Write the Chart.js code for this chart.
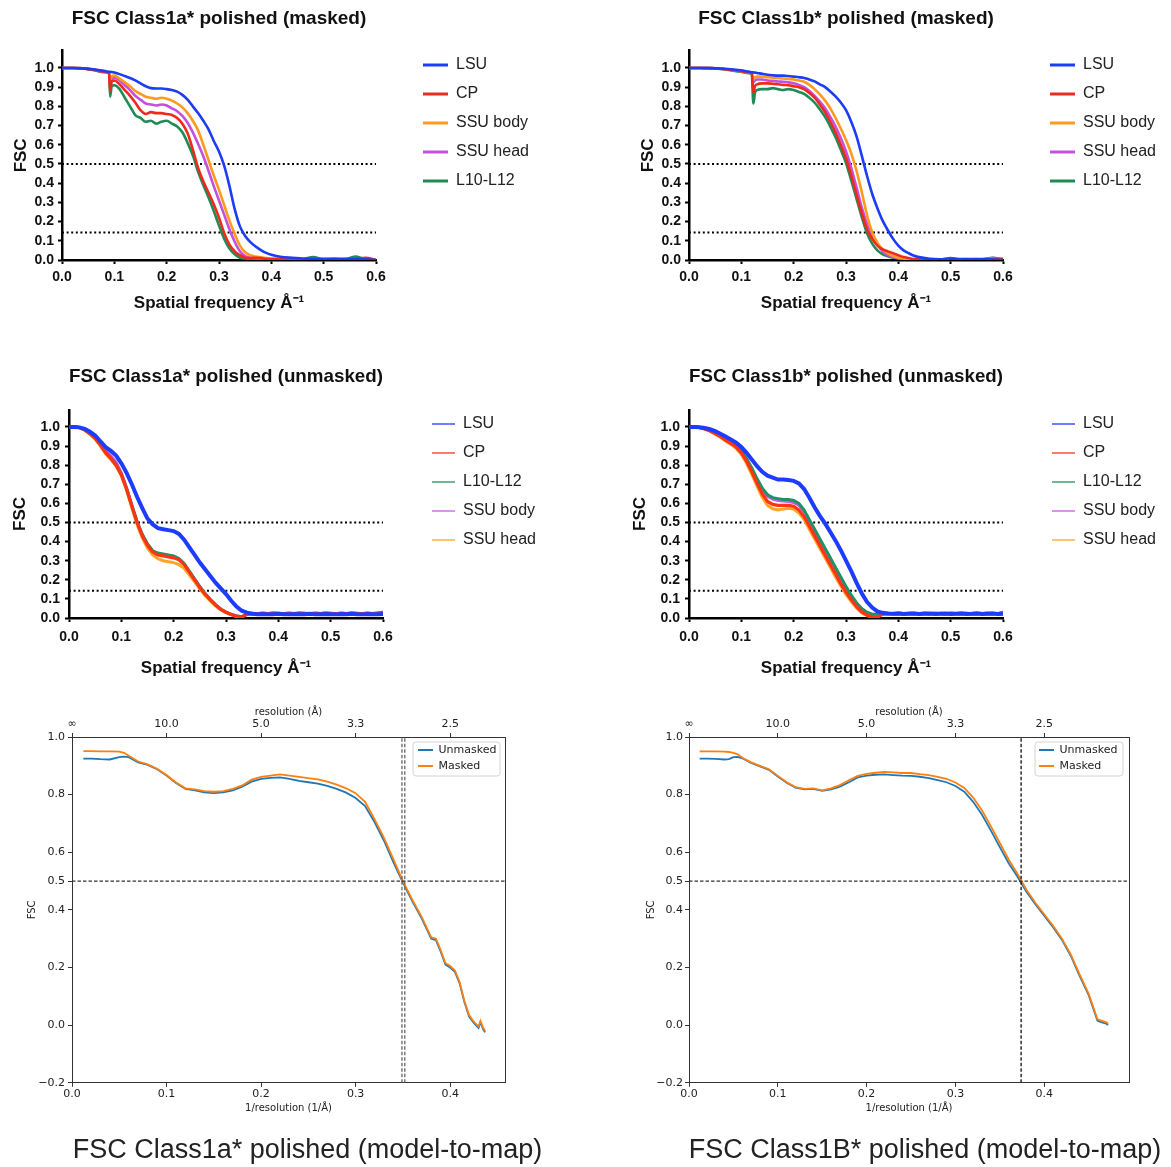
<!DOCTYPE html>
<html><head><meta charset="utf-8">
<script src="https://cdn.jsdelivr.net/npm/chart.js@4.4.1/dist/chart.umd.min.js"></script>
<style>
html,body{margin:0;padding:0;background:#fff;overflow:hidden;width:1171px;height:1167px;}
canvas{position:absolute;}
</style></head><body>
<canvas id="c1" width="585" height="330" style="left:0;top:0;width:585px;height:330px"></canvas>
<canvas id="c2" width="544" height="330" style="left:627px;top:0;width:544px;height:330px"></canvas>
<canvas id="c3" width="585" height="330" style="left:7px;top:360px;width:585px;height:330px"></canvas>
<canvas id="c4" width="544" height="330" style="left:627px;top:360px;width:544px;height:330px"></canvas>
<canvas id="c5" width="615" height="467" style="left:0;top:700px;width:615px;height:467px"></canvas>
<canvas id="c6" width="616" height="467" style="left:617px;top:700px;width:616px;height:467px"></canvas>
<script>
// ---------------- DATA ----------------
const xTicksPrism = [0, 0.1, 0.2, 0.3, 0.4, 0.5, 0.6];
const yTicksPrism = [0, 0.1, 0.2, 0.3, 0.4, 0.5, 0.6, 0.7, 0.8, 0.9, 1.0];
const thresholds = [0.5, 0.143];
const xRangePrism = [0, 0.6];

// Panel 1: Class1a* masked
const xs1 = [0, 0.02, 0.04, 0.06, 0.08, 0.09, 0.092, 0.095, 0.1, 0.11, 0.12, 0.13, 0.14, 0.15, 0.16, 0.17, 0.18, 0.19, 0.2, 0.21, 0.22, 0.23, 0.24, 0.25, 0.26, 0.27, 0.28, 0.29, 0.3, 0.31, 0.32, 0.33, 0.34, 0.35, 0.36, 0.37, 0.38, 0.39, 0.4, 0.42, 0.44, 0.46, 0.48, 0.5, 0.52, 0.54, 0.56, 0.58, 0.6];
const lsu1 = [1.0, 1.0, 0.998, 0.993, 0.985, 0.98, 0.98, 0.979, 0.976, 0.968, 0.958, 0.948, 0.935, 0.92, 0.905, 0.895, 0.893, 0.893, 0.89, 0.885, 0.877, 0.86, 0.835, 0.8, 0.765, 0.725, 0.68, 0.62, 0.565, 0.49, 0.385, 0.265, 0.175, 0.125, 0.093, 0.07, 0.052, 0.037, 0.027, 0.016, 0.012, 0.008, 0.006, 0.006, 0.005, 0.006, 0.005, 0.004, 0.0];
const cp1 = [1.0, 1.0, 0.998, 0.99, 0.98, 0.975, 0.88, 0.93, 0.935, 0.915, 0.885, 0.855, 0.82, 0.78, 0.76, 0.77, 0.765, 0.765, 0.76, 0.755, 0.74, 0.71, 0.66, 0.575, 0.48, 0.41, 0.35, 0.29, 0.22, 0.14, 0.08, 0.045, 0.025, 0.012, 0.01, 0.012, 0.01, 0.006, 0.005, 0.004, 0.003, 0.004, 0.003, 0.004, 0.006, 0.003, 0.005, 0.012, 0.0];
const ssuBody1 = [1.0, 1.0, 0.998, 0.992, 0.982, 0.977, 0.93, 0.955, 0.96, 0.945, 0.925, 0.905, 0.88, 0.865, 0.85, 0.845, 0.84, 0.845, 0.84, 0.83, 0.815, 0.795, 0.765, 0.725, 0.675, 0.6, 0.52, 0.44, 0.365, 0.285, 0.205, 0.135, 0.075, 0.04, 0.025, 0.018, 0.014, 0.01, 0.006, 0.005, 0.004, 0.003, 0.005, 0.004, 0.008, 0.004, 0.003, 0.006, 0.0];
const ssuHead1 = [1.0, 1.0, 0.998, 0.992, 0.981, 0.976, 0.91, 0.94, 0.95, 0.935, 0.91, 0.885, 0.855, 0.835, 0.815, 0.81, 0.805, 0.81, 0.805, 0.79, 0.775, 0.75, 0.715, 0.665, 0.605, 0.54, 0.465, 0.385, 0.31, 0.235, 0.16, 0.095, 0.045, 0.02, 0.012, 0.01, 0.008, 0.006, 0.005, 0.004, 0.003, 0.004, 0.003, 0.004, 0.003, 0.005, 0.004, 0.003, 0.0];
const l1012_1 = [1.0, 1.0, 0.998, 0.99, 0.978, 0.97, 0.85, 0.905, 0.91, 0.89, 0.845, 0.8, 0.755, 0.74, 0.72, 0.725, 0.71, 0.72, 0.725, 0.71, 0.695, 0.665, 0.61, 0.545, 0.46, 0.39, 0.325, 0.255, 0.18, 0.11, 0.06, 0.03, 0.012, 0.008, 0.006, 0.005, 0.004, 0.004, 0.003, 0.004, 0.003, 0.004, 0.016, 0.003, 0.004, 0.003, 0.018, 0.004, 0.0];

// Panel 2: Class1b* masked
const xs2 = [0, 0.02, 0.04, 0.06, 0.08, 0.1, 0.11, 0.12, 0.123, 0.126, 0.13, 0.14, 0.15, 0.16, 0.17, 0.18, 0.19, 0.2, 0.21, 0.22, 0.23, 0.24, 0.25, 0.26, 0.27, 0.28, 0.29, 0.3, 0.31, 0.32, 0.33, 0.34, 0.35, 0.36, 0.37, 0.38, 0.39, 0.4, 0.41, 0.42, 0.43, 0.44, 0.46, 0.48, 0.5, 0.52, 0.54, 0.56, 0.58, 0.6];
const lsu2 = [1.0, 1.0, 0.999, 0.997, 0.993, 0.988, 0.983, 0.978, 0.977, 0.976, 0.974, 0.97, 0.965, 0.962, 0.96, 0.96, 0.958, 0.955, 0.952, 0.948, 0.94, 0.93, 0.915, 0.9, 0.878, 0.852, 0.82, 0.78, 0.72, 0.645, 0.545, 0.44, 0.345, 0.27, 0.205, 0.155, 0.11, 0.075, 0.05, 0.035, 0.022, 0.015, 0.006, 0.004, 0.006, 0.005, 0.004, 0.005, 0.003, 0.0];
const cp2 = [1.0, 1.0, 0.999, 0.996, 0.99, 0.983, 0.978, 0.972, 0.87, 0.905, 0.915, 0.92, 0.92, 0.918, 0.915, 0.912, 0.91, 0.905, 0.9, 0.89, 0.87, 0.845, 0.81, 0.77, 0.72, 0.665, 0.6, 0.53, 0.44, 0.34, 0.245, 0.16, 0.11, 0.075, 0.055, 0.045, 0.035, 0.025, 0.015, 0.01, 0.005, 0.003, 0.004, 0.003, 0.01, 0.003, 0.004, 0.003, 0.004, 0.008];
const ssuBody2 = [1.0, 1.0, 0.999, 0.996, 0.99, 0.983, 0.977, 0.97, 0.94, 0.95, 0.955, 0.955, 0.952, 0.95, 0.948, 0.945, 0.943, 0.94, 0.935, 0.928, 0.912, 0.89, 0.862, 0.83, 0.79, 0.74, 0.685, 0.625, 0.555, 0.465, 0.355, 0.235, 0.145, 0.09, 0.055, 0.035, 0.02, 0.012, 0.008, 0.005, 0.004, 0.003, 0.003, 0.004, 0.003, 0.004, 0.006, 0.003, 0.004, 0.0];
const ssuHead2 = [1.0, 1.0, 0.999, 0.996, 0.99, 0.983, 0.977, 0.97, 0.925, 0.935, 0.94, 0.94, 0.935, 0.933, 0.93, 0.928, 0.925, 0.92, 0.912, 0.9, 0.88, 0.855, 0.825, 0.79, 0.745, 0.695, 0.635, 0.565, 0.48, 0.38, 0.275, 0.19, 0.125, 0.08, 0.045, 0.025, 0.015, 0.01, 0.006, 0.004, 0.003, 0.003, 0.004, 0.003, 0.003, 0.004, 0.003, 0.003, 0.01, 0.0];
const l1012_2 = [1.0, 1.0, 0.999, 0.995, 0.988, 0.98, 0.974, 0.967, 0.815, 0.87, 0.885, 0.89, 0.89, 0.895, 0.89, 0.885, 0.89, 0.885, 0.875, 0.865, 0.845, 0.82, 0.785, 0.745, 0.695, 0.64, 0.575, 0.505, 0.415, 0.32, 0.225, 0.14, 0.085, 0.05, 0.03, 0.02, 0.012, 0.008, 0.005, 0.004, 0.003, 0.003, 0.004, 0.003, 0.004, 0.003, 0.003, 0.004, 0.012, 0.0];

// Panels 3 & 4: unmasked (shared frequency grid)
const xsU = [0, 0.01, 0.02, 0.03, 0.04, 0.05, 0.06, 0.07, 0.08, 0.09, 0.1, 0.11, 0.12, 0.13, 0.14, 0.15, 0.16, 0.17, 0.18, 0.19, 0.2, 0.21, 0.22, 0.23, 0.24, 0.25, 0.26, 0.27, 0.28, 0.29, 0.3, 0.31, 0.32, 0.33, 0.34, 0.35, 0.36, 0.37, 0.38, 0.39, 0.4, 0.41, 0.42, 0.43, 0.44, 0.45, 0.46, 0.47, 0.48, 0.49, 0.5, 0.51, 0.52, 0.53, 0.54, 0.55, 0.56, 0.57, 0.58, 0.59, 0.6];
const lsu3 = [1.0, 1.0, 0.998, 0.99, 0.975, 0.955, 0.925, 0.895, 0.875, 0.85, 0.81, 0.76, 0.7, 0.635, 0.575, 0.52, 0.49, 0.47, 0.465, 0.46, 0.455, 0.44, 0.41, 0.37, 0.33, 0.29, 0.255, 0.22, 0.185, 0.155, 0.125, 0.09, 0.06, 0.038, 0.028, 0.022, 0.02, 0.021, 0.019, 0.02, 0.022, 0.02, 0.019, 0.021, 0.02, 0.02, 0.022, 0.019, 0.02, 0.021, 0.02, 0.019, 0.021, 0.02, 0.022, 0.02, 0.019, 0.021, 0.02, 0.02, 0.021];
const cp3 = [1.0, 1.0, 0.997, 0.985, 0.965, 0.94, 0.905, 0.865, 0.835, 0.8, 0.75, 0.675, 0.585, 0.5, 0.43, 0.38, 0.345, 0.33, 0.325, 0.32, 0.315, 0.305, 0.28, 0.24, 0.2, 0.16, 0.125, 0.095, 0.068, 0.045, 0.03, 0.018, 0.01, 0.006, 0.02, 0.024, 0.022, 0.025, 0.023, 0.026, 0.024, 0.022, 0.025, 0.023, 0.026, 0.024, 0.022, 0.025, 0.023, 0.026, 0.024, 0.022, 0.025, 0.023, 0.026, 0.024, 0.022, 0.025, 0.023, 0.026, 0.03];
const l1012_3 = [1.0, 1.0, 0.997, 0.985, 0.966, 0.942, 0.908, 0.868, 0.838, 0.802, 0.752, 0.678, 0.59, 0.505, 0.438, 0.388, 0.352, 0.34, 0.335, 0.33, 0.325, 0.312, 0.285, 0.245, 0.205, 0.165, 0.128, 0.097, 0.07, 0.047, 0.031, 0.019, 0.011, 0.007, 0.018, 0.022, 0.02, 0.023, 0.021, 0.024, 0.022, 0.02, 0.023, 0.021, 0.024, 0.022, 0.02, 0.023, 0.021, 0.024, 0.022, 0.02, 0.023, 0.021, 0.024, 0.022, 0.02, 0.023, 0.021, 0.024, 0.025];
const ssuBody3 = [1.0, 1.0, 0.998, 0.987, 0.968, 0.946, 0.913, 0.878, 0.85, 0.815, 0.76, 0.682, 0.592, 0.505, 0.436, 0.385, 0.35, 0.336, 0.33, 0.325, 0.32, 0.308, 0.282, 0.242, 0.202, 0.162, 0.126, 0.096, 0.069, 0.046, 0.03, 0.018, 0.01, 0.006, 0.019, 0.023, 0.021, 0.024, 0.022, 0.025, 0.023, 0.021, 0.024, 0.022, 0.025, 0.023, 0.021, 0.024, 0.022, 0.025, 0.023, 0.021, 0.024, 0.022, 0.025, 0.023, 0.021, 0.024, 0.022, 0.025, 0.024];
const ssuHead3 = [1.0, 1.0, 0.996, 0.983, 0.962, 0.936, 0.9, 0.86, 0.83, 0.795, 0.745, 0.668, 0.578, 0.49, 0.42, 0.365, 0.33, 0.31, 0.3, 0.295, 0.29, 0.28, 0.26, 0.225, 0.19, 0.152, 0.118, 0.09, 0.064, 0.042, 0.027, 0.016, 0.008, 0.004, 0.021, 0.025, 0.023, 0.026, 0.024, 0.027, 0.025, 0.023, 0.026, 0.024, 0.027, 0.025, 0.023, 0.026, 0.024, 0.027, 0.025, 0.023, 0.026, 0.024, 0.027, 0.025, 0.023, 0.026, 0.024, 0.027, 0.03];

const lsu4 = [1.0, 1.0, 0.999, 0.995, 0.988, 0.978, 0.965, 0.95, 0.935, 0.918, 0.895, 0.865, 0.83, 0.795, 0.765, 0.745, 0.735, 0.725, 0.725, 0.722, 0.718, 0.705, 0.675, 0.63, 0.58, 0.535, 0.495, 0.45, 0.405, 0.355, 0.3, 0.245, 0.185, 0.13, 0.085, 0.055, 0.035, 0.027, 0.024, 0.022, 0.023, 0.021, 0.022, 0.024, 0.021, 0.022, 0.023, 0.021, 0.022, 0.024, 0.021, 0.022, 0.023, 0.021, 0.022, 0.024, 0.021, 0.022, 0.023, 0.021, 0.022];
const cp4 = [1.0, 1.0, 0.998, 0.99, 0.98, 0.965, 0.95, 0.93, 0.915, 0.895, 0.865, 0.82, 0.765, 0.705, 0.65, 0.61, 0.595, 0.59, 0.59, 0.59, 0.585, 0.565, 0.53, 0.48, 0.43, 0.38, 0.33, 0.28, 0.23, 0.18, 0.135, 0.095, 0.06, 0.032, 0.015, 0.006, 0.005, 0.02, 0.024, 0.022, 0.025, 0.023, 0.026, 0.024, 0.022, 0.025, 0.023, 0.026, 0.024, 0.022, 0.025, 0.023, 0.026, 0.024, 0.022, 0.025, 0.023, 0.026, 0.024, 0.022, 0.03];
const l1012_4 = [1.0, 1.0, 0.998, 0.992, 0.982, 0.97, 0.955, 0.94, 0.92, 0.9, 0.875, 0.835, 0.785, 0.73, 0.68, 0.645, 0.63, 0.625, 0.62, 0.62, 0.615, 0.6, 0.565, 0.515, 0.465, 0.415, 0.365, 0.315, 0.265, 0.215, 0.165, 0.12, 0.08, 0.05, 0.03, 0.02, 0.02, 0.021, 0.023, 0.022, 0.021, 0.023, 0.022, 0.021, 0.023, 0.022, 0.021, 0.023, 0.022, 0.021, 0.023, 0.022, 0.021, 0.023, 0.022, 0.021, 0.023, 0.022, 0.021, 0.023, 0.022];
const ssuBody4 = [1.0, 1.0, 0.998, 0.992, 0.982, 0.969, 0.954, 0.938, 0.918, 0.897, 0.87, 0.83, 0.778, 0.722, 0.672, 0.637, 0.622, 0.615, 0.612, 0.61, 0.605, 0.59, 0.555, 0.505, 0.455, 0.405, 0.355, 0.305, 0.255, 0.205, 0.158, 0.113, 0.074, 0.045, 0.026, 0.018, 0.02, 0.022, 0.021, 0.023, 0.022, 0.021, 0.023, 0.022, 0.021, 0.023, 0.022, 0.021, 0.023, 0.022, 0.021, 0.023, 0.022, 0.021, 0.023, 0.022, 0.021, 0.023, 0.022, 0.021, 0.023];
const ssuHead4 = [1.0, 1.0, 0.997, 0.989, 0.978, 0.962, 0.946, 0.926, 0.909, 0.888, 0.856, 0.81, 0.752, 0.69, 0.632, 0.59, 0.572, 0.566, 0.57, 0.574, 0.57, 0.55, 0.515, 0.465, 0.415, 0.365, 0.315, 0.265, 0.215, 0.168, 0.124, 0.086, 0.052, 0.027, 0.012, 0.005, 0.004, 0.022, 0.025, 0.023, 0.026, 0.024, 0.022, 0.025, 0.023, 0.026, 0.024, 0.022, 0.025, 0.023, 0.026, 0.024, 0.022, 0.025, 0.023, 0.026, 0.024, 0.022, 0.025, 0.023, 0.03];

// Panels 5 & 6: model-to-map
const xTicksMpl = [0, 0.1, 0.2, 0.3, 0.4];
const resLabels = ['\u221e', '10.0', '5.0', '3.3', '2.5'];
const yTicksMpl = [-0.2, 0.0, 0.2, 0.4, 0.5, 0.6, 0.8, 1.0];
const fscCut = 0.5;
const xs5 = [0.012, 0.02, 0.03, 0.04, 0.05, 0.055, 0.06, 0.07, 0.08, 0.09, 0.1, 0.11, 0.12, 0.13, 0.14, 0.15, 0.16, 0.17, 0.18, 0.19, 0.2, 0.21, 0.22, 0.23, 0.24, 0.25, 0.26, 0.27, 0.28, 0.29, 0.3, 0.31, 0.32, 0.33, 0.34, 0.35, 0.36, 0.37, 0.38, 0.385, 0.39, 0.395, 0.4, 0.405, 0.41, 0.415, 0.42, 0.425, 0.43, 0.432, 0.435, 0.437];
const masked5 = [0.951, 0.951, 0.95, 0.95, 0.949, 0.945, 0.935, 0.915, 0.905, 0.89, 0.868, 0.842, 0.822, 0.818, 0.812, 0.81, 0.812, 0.82, 0.832, 0.852, 0.862, 0.866, 0.87, 0.866, 0.862, 0.857, 0.853, 0.845, 0.835, 0.822, 0.805, 0.775, 0.715, 0.65, 0.575, 0.5, 0.435, 0.375, 0.305, 0.3, 0.26, 0.215, 0.205, 0.19, 0.15, 0.085, 0.035, 0.012, -0.005, 0.015, -0.01, -0.02];
const unmasked5 = [0.925, 0.925, 0.923, 0.922, 0.93, 0.932, 0.93, 0.912, 0.903, 0.888, 0.866, 0.84, 0.82, 0.815, 0.808, 0.805, 0.808, 0.815, 0.828, 0.845, 0.855, 0.858, 0.86, 0.855, 0.848, 0.843, 0.838, 0.83, 0.82, 0.807, 0.788, 0.76, 0.705, 0.64, 0.565, 0.495, 0.43, 0.37, 0.3, 0.295, 0.255, 0.21, 0.2, 0.185, 0.145, 0.08, 0.03, 0.008, -0.01, 0.01, -0.015, -0.025];
const vlines5 = [0.349, 0.352];
const xs6 = [0.012, 0.02, 0.03, 0.04, 0.045, 0.05, 0.055, 0.06, 0.07, 0.08, 0.09, 0.1, 0.11, 0.12, 0.13, 0.14, 0.15, 0.16, 0.17, 0.18, 0.19, 0.2, 0.21, 0.22, 0.23, 0.24, 0.25, 0.26, 0.27, 0.28, 0.29, 0.3, 0.31, 0.32, 0.33, 0.34, 0.35, 0.36, 0.37, 0.38, 0.39, 0.4, 0.41, 0.42, 0.43, 0.44, 0.45, 0.455, 0.46, 0.465, 0.47, 0.472];
const masked6 = [0.95, 0.95, 0.95, 0.949, 0.948, 0.945, 0.94, 0.928, 0.912, 0.9, 0.888, 0.865, 0.843, 0.826, 0.82, 0.822, 0.815, 0.822, 0.833, 0.85, 0.865, 0.872, 0.876, 0.879, 0.877, 0.875, 0.875, 0.871, 0.868, 0.862, 0.855, 0.842, 0.823, 0.79, 0.745, 0.69, 0.632, 0.575, 0.525, 0.47, 0.425, 0.385, 0.345, 0.3, 0.245, 0.175, 0.11, 0.065, 0.02, 0.015, 0.01, 0.005];
const unmasked6 = [0.925, 0.925, 0.924, 0.922, 0.923, 0.93, 0.931, 0.926, 0.91, 0.898, 0.886, 0.863, 0.841, 0.824, 0.818, 0.82, 0.813, 0.818, 0.828, 0.843, 0.86, 0.866, 0.869, 0.87, 0.868, 0.866, 0.865, 0.862, 0.857, 0.85, 0.843, 0.83, 0.81, 0.775, 0.73, 0.675, 0.618, 0.562, 0.515, 0.463, 0.42, 0.38, 0.34, 0.296, 0.24, 0.17, 0.105, 0.06, 0.015, 0.01, 0.005, 0.0];
const vlines6 = [0.374];

// ---------------- STYLE / HELPERS ----------------
const SANS = "'Liberation Sans', Arial, Helvetica, sans-serif";
const MPL = "'DejaVu Sans', sans-serif";
Chart.defaults.font.family = SANS;
Chart.defaults.color = '#111';

const COL = {lsu: '#1c3cf5', cp: '#ee2a1e', body: '#ff9a1e', head: '#c450e0', l10: '#1f8c56'};
const COLU = {lsu: '#1d3cff', cp: '#ff3414', l10: '#1f9263', body: '#c65ae2', head: '#ffa526'};

function pts(xs, ys) { return xs.map((x, i) => ({x: x, y: ys[i]})); }
function fixedTicks(arr) { return (s) => { s.ticks = arr.map(v => ({value: v})); }; }

const legendPlacer = {
  id: 'legendPlacer',
  defaults: {},
  afterLayout(chart, args, o) {
    const lg = chart.legend;
    if (!lg || o.left === undefined) return;
    lg.left = o.left; lg.top = o.top;
    lg.width = 300; lg.height = 300;
    lg.right = o.left + 300; lg.bottom = o.top + 300;
  },
  beforeDraw(chart, args, o) {
    if (!o.frame) return;
    const f = o.frame, ctx = chart.ctx;
    ctx.save();
    ctx.beginPath();
    ctx.roundRect(f.x, f.y, f.w, f.h, 3);
    ctx.fillStyle = '#fff'; ctx.fill();
    ctx.strokeStyle = '#d4d4d4'; ctx.lineWidth = 1; ctx.stroke();
    ctx.restore();
  }
};
Chart.register(legendPlacer);

function prismChart(id, c) {
  const datasets = c.series.map(s => ({
    label: s.label, data: pts(c.xs, s.ys), borderColor: s.color, backgroundColor: s.color,
    borderWidth: s.width, pointRadius: 0, fill: false,
    cubicInterpolationMode: c.smooth ? 'monotone' : 'default', tension: 0
  }));
  thresholds.forEach(t => datasets.push({
    label: '', data: [{x: xRangePrism[0], y: t}, {x: xRangePrism[1], y: t}],
    borderColor: '#000', backgroundColor: '#000', borderWidth: 2, borderDash: [2, 2.6], pointRadius: 0, fill: false
  }));
  return new Chart(document.getElementById(id), {
    type: 'line',
    data: {datasets},
    options: {
      responsive: false, animation: false, events: [],
      layout: {padding: {left: 0, top: 0, right: c.padRight, bottom: 0}},
      plugins: {
        title: {display: true, text: c.title, fullSize: false, color: '#111',
          font: {size: 19, weight: 'bold'}, padding: {top: c.tPadTop, bottom: c.tPadBottom}},
        legend: {position: 'chartArea', align: 'start',
          labels: {usePointStyle: true, pointStyle: 'line', pointStyleWidth: c.legendLine, padding: 13,
            color: '#222', font: {size: 16}, textAlign: 'left',
            filter: it => it.text !== '',
            generateLabels: ch => {
              const items = Chart.defaults.plugins.legend.labels.generateLabels(ch);
              items.forEach(it => { it.lineWidth = c.legendWidth; });
              return items;
            }}},
        legendPlacer: {left: c.legendLeft, top: c.legendTop},
        tooltip: {enabled: false}
      },
      scales: {
        x: {type: 'linear', min: xRangePrism[0], max: xRangePrism[1],
          afterBuildTicks: fixedTicks(xTicksPrism),
          ticks: {callback: v => v.toFixed(1), autoSkip: false, maxRotation: 0, padding: c.xTickPad,
            color: '#111', font: {size: 14, weight: 'bold'}},
          grid: {drawOnChartArea: false, drawTicks: true, tickLength: 4, tickWidth: 2, tickColor: '#000', color: '#000'},
          border: {display: true, color: '#000', width: 2.5},
          title: {display: true, text: 'Spatial frequency \u00c5\u207b\u00b9', color: '#111',
            font: {size: 17, weight: 'bold'}, padding: {top: 0, bottom: c.xTitlePadB}},
          afterFit: s => { s.height = c.xHeight; }
        },
        y: {type: 'linear', min: 0, max: 1.09,
          afterBuildTicks: fixedTicks(yTicksPrism),
          ticks: {callback: v => v.toFixed(1), autoSkip: false, padding: c.yTickPad,
            color: '#111', font: {size: 14, weight: 'bold'}},
          grid: {drawOnChartArea: false, drawTicks: true, tickLength: 4, tickWidth: 2, tickColor: '#000', color: '#000'},
          border: {display: true, color: '#000', width: 2.5},
          title: {display: true, text: 'FSC', color: '#111',
            font: {size: 17, weight: 'bold'}, padding: {top: c.yTitlePadT, bottom: 0}},
          afterFit: s => { s.width = 62; }
        }
      }
    }
  });
}

const top1 = {padRight: 209, tPadTop: 7.6, tPadBottom: 20.3, xTickPad: 4.6, xTitlePadB: 16.8, xHeight: 70,
  yTickPad: 4, yTitlePadT: 10.8, legendLeft: 410, legendTop: 44, legendLine: 25, legendWidth: 3, smooth: true};
const mid1 = {padRight: 209, tPadTop: 5.6, tPadBottom: 21.4, xTickPad: 6.6, xTitlePadB: 11.8, xHeight: 72,
  yTickPad: 5, yTitlePadT: 2.8, legendLeft: 412, legendTop: 43, legendLine: 23, legendWidth: 1.3, smooth: false};

prismChart('c1', Object.assign({}, top1, {title: 'FSC Class1a* polished (masked)', xs: xs1, series: [
  {label: 'LSU', ys: lsu1, color: COL.lsu, width: 2.6},
  {label: 'CP', ys: cp1, color: COL.cp, width: 2.6},
  {label: 'SSU body', ys: ssuBody1, color: COL.body, width: 2.6},
  {label: 'SSU head', ys: ssuHead1, color: COL.head, width: 2.6},
  {label: 'L10-L12', ys: l1012_1, color: COL.l10, width: 2.6}]}));
prismChart('c2', Object.assign({}, top1, {padRight: 168, title: 'FSC Class1b* polished (masked)', xs: xs2, series: [
  {label: 'LSU', ys: lsu2, color: COL.lsu, width: 2.6},
  {label: 'CP', ys: cp2, color: COL.cp, width: 2.6},
  {label: 'SSU body', ys: ssuBody2, color: COL.body, width: 2.6},
  {label: 'SSU head', ys: ssuHead2, color: COL.head, width: 2.6},
  {label: 'L10-L12', ys: l1012_2, color: COL.l10, width: 2.6}]}));
prismChart('c3', Object.assign({}, mid1, {title: 'FSC Class1a* polished (unmasked)', xs: xsU, series: [
  {label: 'LSU', ys: lsu3, color: COLU.lsu, width: 4},
  {label: 'CP', ys: cp3, color: COLU.cp, width: 3.2},
  {label: 'L10-L12', ys: l1012_3, color: COLU.l10, width: 3},
  {label: 'SSU body', ys: ssuBody3, color: COLU.body, width: 3},
  {label: 'SSU head', ys: ssuHead3, color: COLU.head, width: 3}]}));
prismChart('c4', Object.assign({}, mid1, {padRight: 168, title: 'FSC Class1b* polished (unmasked)', xs: xsU, series: [
  {label: 'LSU', ys: lsu4, color: COLU.lsu, width: 4},
  {label: 'CP', ys: cp4, color: COLU.cp, width: 3.2},
  {label: 'L10-L12', ys: l1012_4, color: COLU.l10, width: 3},
  {label: 'SSU body', ys: ssuBody4, color: COLU.body, width: 3},
  {label: 'SSU head', ys: ssuHead4, color: COLU.head, width: 3}]}));

function mplChart(id, c) {
  const line = {pointRadius: 0, fill: false, tension: 0};
  const datasets = [
    Object.assign({label: 'Unmasked', data: pts(c.xs, c.unmasked), borderColor: '#1f77b4', backgroundColor: '#1f77b4', borderWidth: 1.8, order: 1}, line),
    Object.assign({label: 'Masked', data: pts(c.xs, c.masked), borderColor: '#ff7f0e', backgroundColor: '#ff7f0e', borderWidth: 1.8, order: 0}, line),
    Object.assign({label: '', data: [{x: 0, y: fscCut}, {x: c.xmax, y: fscCut}], borderColor: '#333', borderWidth: 1.2, borderDash: [3.5, 2], order: -1}, line)
  ];
  c.vlines.forEach(v => datasets.push(Object.assign({label: '', data: [{x: v, y: -0.2}, {x: v, y: 1.0}],
    borderColor: c.vColor, borderWidth: 1.3, borderDash: [3.5, 2], order: -1}, line)));
  const tickFont = {family: MPL, size: 11};
  const lblFont = {family: MPL, size: 10};
  const grid = {drawOnChartArea: false, drawTicks: true, tickLength: 4, tickWidth: 1, tickColor: '#333', color: '#333'};
  const border = {display: true, color: '#333', width: 1};
  return new Chart(document.getElementById(id), {
    type: 'line',
    data: {datasets},
    options: {
      responsive: false, animation: false, events: [],
      layout: {padding: 0},
      plugins: {
        title: {display: true, position: 'bottom', fullSize: true, text: c.caption, color: '#222',
          font: {family: SANS, size: 27, weight: 'normal'}, padding: {top: 11.8, bottom: 0}},
        legend: {position: 'chartArea', align: 'start',
          labels: {usePointStyle: true, pointStyle: 'line', pointStyleWidth: 15, padding: 5,
            color: '#222', font: {family: MPL, size: 11}, textAlign: 'left',
            filter: it => it.text !== '', sort: (a, b) => a.datasetIndex - b.datasetIndex}},
        legendPlacer: {left: c.legendLeft, top: c.legendTop, frame: c.frame},
        tooltip: {enabled: false}
      },
      scales: {
        x: {type: 'linear', position: 'bottom', min: 0, max: c.xmax,
          afterBuildTicks: fixedTicks(xTicksMpl),
          ticks: {callback: v => v.toFixed(1), autoSkip: false, maxRotation: 0, padding: 0.4, color: '#222', font: tickFont},
          grid, border,
          title: {display: true, text: '1/resolution (1/\u00c5)', color: '#222', font: lblFont, padding: {top: 0, bottom: 8}},
          afterFit: s => { s.height = 40; }
        },
        x2: {type: 'linear', position: 'top', min: 0, max: c.xmax,
          afterBuildTicks: fixedTicks(xTicksMpl),
          ticks: {callback: (v, i) => resLabels[i], autoSkip: false, maxRotation: 0, padding: 2.4, color: '#222', font: tickFont},
          grid, border,
          title: {display: true, text: 'resolution (\u00c5)', color: '#222', font: lblFont, padding: {top: 6, bottom: 0}},
          afterFit: s => { s.height = 37; }
        },
        y: {type: 'linear', position: 'left', min: -0.2, max: 1.0,
          afterBuildTicks: fixedTicks(yTicksMpl),
          ticks: {callback: v => (v < 0 ? '\u2212' : '') + Math.abs(v).toFixed(1), autoSkip: false, padding: c.yTickPad, color: '#222', font: tickFont},
          grid, border,
          title: {display: true, text: 'FSC', color: '#222', font: lblFont, padding: {top: c.yTitlePadT, bottom: 0}},
          afterFit: s => { s.width = 72; }
        },
        y2: {type: 'linear', position: 'right', min: -0.2, max: 1.0,
          ticks: {display: false}, grid: {display: false}, border,
          afterFit: s => { s.width = c.rightW; }
        }
      }
    }
  });
}

mplChart('c5', {caption: 'FSC Class1a* polished (model-to-map)', xs: xs5, masked: masked5, unmasked: unmasked5,
  xmax: 0.458, vlines: vlines5, vColor: '#666', rightW: 110, yTickPad: 3, yTitlePadT: 26,
  legendLeft: 413, legendTop: 39.5, frame: {x: 413, y: 42, w: 87, h: 34}});
mplChart('c6', {caption: 'FSC Class1B* polished (model-to-map)', xs: xs6, masked: masked6, unmasked: unmasked6,
  xmax: 0.4955, vlines: vlines6, vColor: '#111', rightW: 104, yTickPad: 2, yTitlePadT: 28.7,
  legendLeft: 417, legendTop: 39.5, frame: {x: 418, y: 42, w: 88, h: 34}});
</script>
</body></html>
